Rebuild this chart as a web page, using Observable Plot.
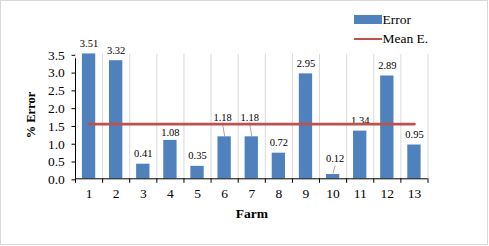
<!DOCTYPE html>
<html>
<head>
<meta charset="utf-8">
<script src="https://cdn.jsdelivr.net/npm/d3@7"></script>
<script src="https://cdn.jsdelivr.net/npm/@observablehq/plot@0.6"></script>
<style>
  body { margin: 0; background: #fff; }
  #wrap { position: relative; width: 489px; height: 246px; overflow: hidden; background: #fff; }
  #border { position: absolute; left: 0; top: 0; width: 488px; height: 245px; box-sizing: border-box; border: 1px solid #d9d9d9; pointer-events: none; }
  .lg { position: absolute; font-family: "Liberation Serif", "Times New Roman", serif; font-size: 13.5px; line-height: 14px; color: #000; white-space: nowrap; }
  .sw { position: absolute; }
  #chart svg, #chart svg text { font-family: "Liberation Serif", "Times New Roman", serif !important; }
</style>
</head>
<body>
<div id="wrap">
  <div id="chart"></div>
  <div class="sw" id="sw0" style="left:354px;top:15px;width:28px;height:8.5px;"></div>
  <div class="lg" id="lg0" style="left:382.5px;top:13.4px;"></div>
  <div class="sw" id="sw1" style="left:354px;top:37.6px;width:28px;height:2.8px;"></div>
  <div class="lg" id="lg1" style="left:382.5px;top:32px;"></div>
  <div id="border"></div>
</div>
<script>
// ---- data ----
const farms = [1, 2, 3, 4, 5, 6, 7, 8, 9, 10, 11, 12, 13];
const errors = [3.51, 3.32, 0.41, 1.08, 0.35, 1.18, 1.18, 0.72, 2.95, 0.12, 1.34, 2.89, 0.95];
const yTicks = [0, 0.5, 1.0, 1.5, 2.0, 2.5, 3.0, 3.5];
const seriesNames = ["Error", "Mean E."];
const xTitle = "Farm";
const yTitle = "% Error";

// ---- derived ----
const table = farms.map((f, i) => ({farm: f, error: errors[i]}));
const meanError = d3.mean(errors);
const fmt = d3.format(".2f");

const barColor = "#4F81BD";
const lineColor = "#C0504D";
const gridColor = "#d9d9d9";
const font = '"Liberation Serif", "Times New Roman", serif';

const W = 489, H = 246;
const mL = 75, mR = 61.5, mT = 53.8, mB = 67.7;
const step = (W - mL - mR) / farms.length;
const lastFarm = farms[farms.length - 1];

// label placement tweaks (pixel offsets) and leader lines
const labelTweaks = {4: {dx: 0, dy: -8}, 6: {dx: -2, dy: -19}, 7: {dx: -2, dy: -19}, 10: {dx: 2, dy: -16}};
const leaders = {6: {len: 13, rot: -10, dy: -1}, 7: {len: 13, rot: -10, dy: -1}, 10: {len: 7.5, rot: 15, dy: -1.5}};
const lineShape = {draw(context, l) { context.moveTo(0, 0); context.lineTo(0, -l); }};

const marks = [
  Plot.ruleX(farms, {x: d => d, dx: -step / 2, stroke: gridColor, strokeWidth: 1}),
  Plot.ruleX([lastFarm], {x: d => d, dx: step / 2, stroke: gridColor, strokeWidth: 1}),
  Plot.barY(table, {x: "farm", y: "error", fill: barColor, insetLeft: 6.9, insetRight: 6.9}),
  Plot.ruleY([0], {stroke: "#000", strokeWidth: 1}),
  Plot.ruleX([farms[0]], {x: d => d, dx: -step / 2, y1: 0, y2: yTicks[yTicks.length - 1], insetBottom: -4.5, stroke: "#000"}),
  Plot.ruleX(farms, {x: d => d, dx: -step / 2, y1: 0, y2: 0, insetBottom: -4.5, stroke: "#000"}),
  Plot.ruleX([lastFarm], {x: d => d, dx: step / 2, y1: 0, y2: 0, insetBottom: -4.5, stroke: "#000"}),
  Plot.axisY(yTicks, {tickFormat: d3.format(".1f"), tickSize: 3.5, tickPadding: 7.2, fontSize: 13.5, fontFamily: font, label: null, stroke: "#000", dy: 1}),
  Plot.axisX({tickSize: 0, tickPadding: 9.9, fontSize: 13.5, fontFamily: font, label: null}),
  Plot.text([yTitle], {text: d => d, frameAnchor: "left", textAnchor: "middle", lineAnchor: "middle", rotate: -90, dx: -45, dy: -1.5, fontWeight: "bold", fontSize: 12.5, fontFamily: font}),
  Plot.text([xTitle], {text: d => d, frameAnchor: "bottom", textAnchor: "middle", lineAnchor: "middle", dy: 35.2, fontWeight: "bold", fontSize: 13.5, fontFamily: font}),
  Plot.text(table, {filter: d => !(d.farm in labelTweaks), x: "farm", y: "error", text: d => fmt(d.error), dy: -10.5, fontSize: 10.5, fontFamily: font})
];
for (const [f, t] of Object.entries(labelTweaks)) {
  marks.push(Plot.text(table, {filter: d => d.farm === +f, x: "farm", y: "error", text: d => fmt(d.error), dx: t.dx, dy: t.dy, fontSize: 10.5, fontFamily: font}));
}
for (const [f, l] of Object.entries(leaders)) {
  marks.push(Plot.vector(table, {filter: d => d.farm === +f, x: "farm", y: "error", length: l.len, rotate: l.rot, anchor: "start", dy: l.dy, shape: lineShape, stroke: "#a6a6a6", strokeWidth: 1}));
}
marks.push(Plot.lineY(farms, {x: d => d, y: () => meanError, stroke: lineColor, strokeWidth: 2.8}));

const chart = Plot.plot({
  width: W, height: H,
  marginLeft: mL, marginRight: mR, marginTop: mT, marginBottom: mB,
  style: {fontFamily: font, fontSize: "13.5px", color: "#000", background: "transparent", overflow: "visible"},
  x: {type: "band", domain: farms, padding: 0, round: false, label: null},
  y: {domain: [0, yTicks[yTicks.length - 1]], label: null},
  marks
});
document.getElementById("chart").appendChild(chart);

document.getElementById("sw0").style.background = barColor;
document.getElementById("sw1").style.background = lineColor;
document.getElementById("lg0").textContent = seriesNames[0];
document.getElementById("lg1").textContent = seriesNames[1];
</script>
</body>
</html>
